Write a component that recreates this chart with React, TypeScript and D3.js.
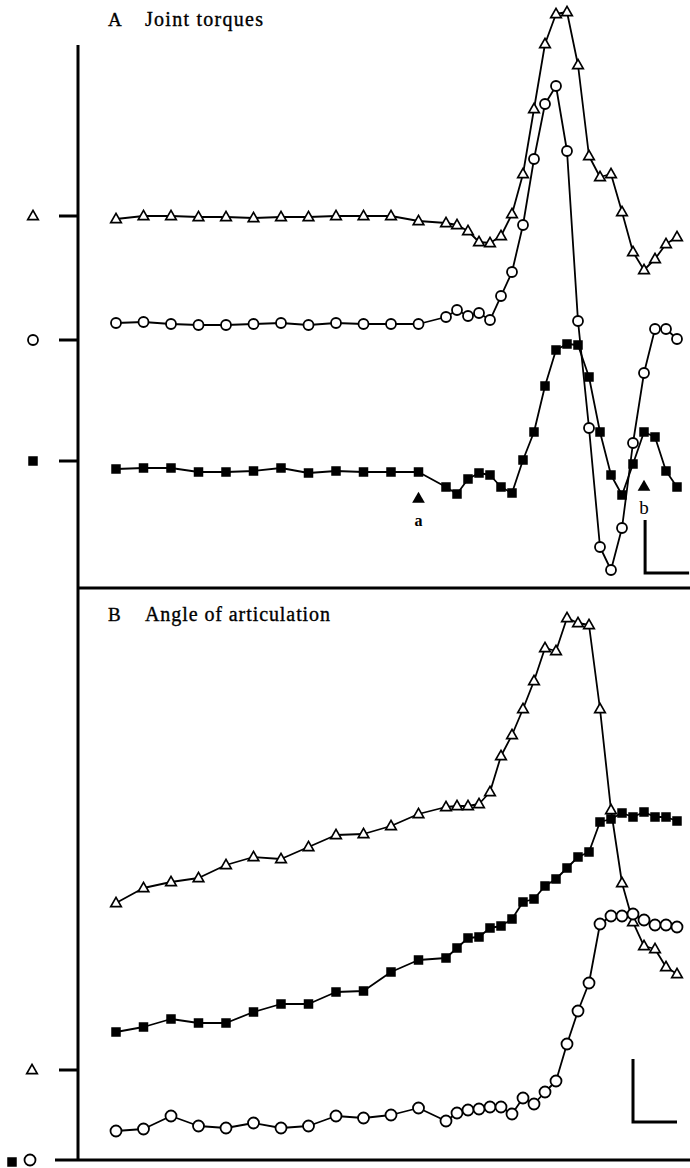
import React from 'react'
import * as d3 from 'd3'

// sample frames shared by every trace (every 5th frame, then every 2nd)
const frames = [0, 5, 10, 15, 20, 25, 30, 35, 40, 45, 50, 55, 60,
  62, 64, 66, 68, 70, 72, 74, 76, 78, 80, 82, 84, 86, 88, 90, 92, 94, 96, 98, 100, 102]

// A  joint torques (arbitrary units, relative to each trace's zero tick)
const torqueTri = [-0.3, 0, 0, -0.1, -0.1, -0.2, -0.1, -0.1, 0, 0, 0, -0.5, -0.7,
  -0.9, -1.5, -2.6, -2.7, -2.0, 0.2, 4.2, 10.7, 17.2, 20.2, 20.4, 15.1, 6.0, 3.9, 4.2, 0.4, -3.6, -5.4, -4.3, -2.8, -2.1]
const torqueCirc = [1.7, 1.8, 1.6, 1.5, 1.5, 1.6, 1.7, 1.5, 1.7, 1.6, 1.6, 1.6, 2.3,
  3.0, 2.4, 2.7, 2.0, 4.4, 6.8, 11.5, 18.1, 23.6, 25.4, 18.9, 1.9, -8.8, -20.7, -23.0, -18.8, -10.3, -3.3, 1.1, 1.1, 0.1]
const torqueSq = [-0.8, -0.7, -0.7, -1.1, -1.1, -1.0, -0.7, -1.2, -1.0, -1.1, -1.1, -1.1, -2.6,
  -3.3, -1.8, -1.2, -1.4, -2.6, -3.2, 0.1, 2.9, 7.5, 11.1, 11.7, 11.6, 8.4, 2.9, -1.4, -3.4, -0.3, 2.9, 2.4, -1.0, -2.6]

// B  angle of articulation
const angleTri = [16.7, 18.2, 18.8, 19.2, 20.5, 21.3, 21.1, 22.3, 23.5, 23.6, 24.4, 25.6, 26.3,
  26.4, 26.4, 26.6, 27.8, 31.4, 33.5, 36.1, 38.9, 42.2, 41.9, 45.2, 44.7, 44.5, 36.1, 26.0, 18.7, 14.8, 12.4, 12.1, 10.3, 9.6]
const angleSq = [12.8, 13.3, 14.1, 13.7, 13.7, 14.8, 15.6, 15.6, 16.8, 16.9, 18.8, 20.0, 20.2,
  21.2, 22.2, 22.3, 23.2, 23.4, 24.1, 25.8, 26.1, 27.4, 28.1, 29.2, 30.3, 30.8, 33.8, 34.1, 34.7, 34.3, 34.8, 34.3, 34.3, 33.9]
const angleCirc = [2.9, 3.1, 4.4, 3.4, 3.2, 3.7, 3.2, 3.4, 4.4, 4.2, 4.5, 5.2, 3.9,
  4.7, 5.0, 5.1, 5.3, 5.3, 4.6, 6.2, 5.6, 6.8, 7.9, 11.6, 14.9, 17.7, 23.6, 24.4, 24.4, 24.6, 24.0, 23.5, 23.5, 23.3]

// zero levels of each trace on the panel scales
const offsetsA = {tri: 37.2, circ: 24.8, sq: 12.7}
const offsetsB = {tri: 9.0, circ: 0, sq: 0}

// event markers a and b (frames)
const events = [{label: 'a', frame: 55}, {label: 'b', frame: 96}]

const W = 690
const H = 1168
const axisX = 78
const divY = 588
const bottomY = 1160

const x = d3.scaleLinear().domain([0, 102]).range([116, 677])
const yA = d3.scaleLinear().domain([0, 58.8]).range([divY, 0])
const yB = d3.scaleLinear().domain([0, 57]).range([bottomY, 590])

const serif = '"Liberation Serif", "DejaVu Serif", serif'
const triPath = d3.symbol(d3.symbolTriangle, 48)()

type Kind = 'tri' | 'circ' | 'sq'

const Marker = ({kind, cx, cy, r = 5}: {kind: Kind, cx: number, cy: number, r?: number}) => {
  if (kind === 'circ') return <circle cx={cx} cy={cy} r={r} fill="#fff" stroke="#000" strokeWidth={1.8}/>
  if (kind === 'sq') return <rect x={cx - 4.75} y={cy - 4.75} width={9.5} height={9.5} fill="#000"/>
  return <path d={triPath} transform={`translate(${cx},${cy + 0.5})`} fill="#fff" stroke="#000" strokeWidth={1.7} strokeLinejoin="miter"/>
}

const Trace = ({vals, offset, y, kind, r}: {vals: number[], offset: number, y: d3.ScaleLinear<number, number>, kind: Kind, r?: number}) => {
  const pts: [number, number][] = vals.map((v, i) => [x(frames[i]), y(offset + v)])
  const line = d3.line()
  return (
    <g>
      <path d={line(pts) || ''} fill="none" stroke="#000" strokeWidth={1.8} strokeLinejoin="round"/>
      {pts.map((p, i) => <Marker key={i} kind={kind} cx={p[0]} cy={p[1]} r={r}/>)}
    </g>
  )
}

const Tick = ({yy}: {yy: number}) => (
  <line x1={59} x2={axisX} y1={yy} y2={yy} stroke="#000" strokeWidth={3}/>
)

const titleStyle = {fontFamily: serif, stroke: '#000', strokeWidth: 0.35}

const App = () => {
  // scale bars: 8 frames wide, vertical in panel units
  const barA = {f: 96.2, bottom: 1.5, h: 5.3}
  const barB = {f: 94, bottom: 3.8, h: 6.3}
  return (
    <svg width={W} height={H} style={{position: 'absolute', left: 0, top: 0, background: '#fff'}}>
      <rect width={W} height={H} fill="#fff"/>

      {/* axes */}
      <line x1={axisX} x2={axisX} y1={45} y2={bottomY + 1} stroke="#000" strokeWidth={3}/>
      <line x1={axisX} x2={W} y1={divY} y2={divY} stroke="#000" strokeWidth={3}/>
      <line x1={55} x2={W} y1={bottomY} y2={bottomY} stroke="#000" strokeWidth={3}/>

      {/* panel titles */}
      <text x={108} y={26} fontSize={19} style={titleStyle}>A</text>
      <text x={145} y={26} fontSize={20} style={titleStyle} textLength={118} lengthAdjust="spacing">Joint torques</text>
      <text x={108} y={621} fontSize={19} style={titleStyle}>B</text>
      <text x={145} y={621} fontSize={20} style={titleStyle} textLength={185} lengthAdjust="spacing">Angle of articulation</text>

      {/* zero ticks and their symbols */}
      <Tick yy={yA(offsetsA.tri)}/>
      <Tick yy={yA(offsetsA.circ)}/>
      <Tick yy={yA(offsetsA.sq)}/>
      <Tick yy={yB(offsetsB.tri)}/>
      <Marker kind="tri" cx={33} cy={yA(offsetsA.tri)}/>
      <Marker kind="circ" cx={33} cy={yA(offsetsA.circ)}/>
      <Marker kind="sq" cx={33} cy={yA(offsetsA.sq)}/>
      <Marker kind="tri" cx={32} cy={yB(offsetsB.tri)}/>
      <Marker kind="sq" cx={12} cy={yB(offsetsB.sq) + 2}/>
      <Marker kind="circ" cx={30} cy={yB(offsetsB.circ)} r={5.5}/>

      {/* panel A */}
      <Trace vals={torqueTri} offset={offsetsA.tri} y={yA} kind="tri"/>
      <Trace vals={torqueSq} offset={offsetsA.sq} y={yA} kind="sq"/>
      <Trace vals={torqueCirc} offset={offsetsA.circ} y={yA} kind="circ"/>

      {events.map(e => (
        <g key={e.label}>
          <path d={d3.symbol(d3.symbolTriangle, 70)() || ''}
                transform={`translate(${x(e.frame)},${e.label === 'a' ? 499 : 487})`} fill="#000"/>
          <text x={x(e.frame)} y={e.label === 'a' ? 526 : 514} textAnchor="middle"
                fontFamily={serif} fontSize={e.label === 'a' ? 16 : 19}
                fontWeight={e.label === 'a' ? 'bold' : 'normal'}>{e.label}</text>
        </g>
      ))}

      <path d={`M${x(barA.f)},${yA(barA.bottom + barA.h)}V${yA(barA.bottom)}H${x(barA.f + 8)}`}
            fill="none" stroke="#000" strokeWidth={3}/>

      {/* panel B */}
      <Trace vals={angleTri} offset={offsetsB.tri} y={yB} kind="tri"/>
      <Trace vals={angleSq} offset={offsetsB.sq} y={yB} kind="sq"/>
      <Trace vals={angleCirc} offset={offsetsB.circ} y={yB} kind="circ" r={5.5}/>

      <path d={`M${x(barB.f)},${yB(barB.bottom + barB.h)}V${yB(barB.bottom)}H${x(barB.f + 8)}`}
            fill="none" stroke="#000" strokeWidth={3}/>
    </svg>
  )
}

export default App
